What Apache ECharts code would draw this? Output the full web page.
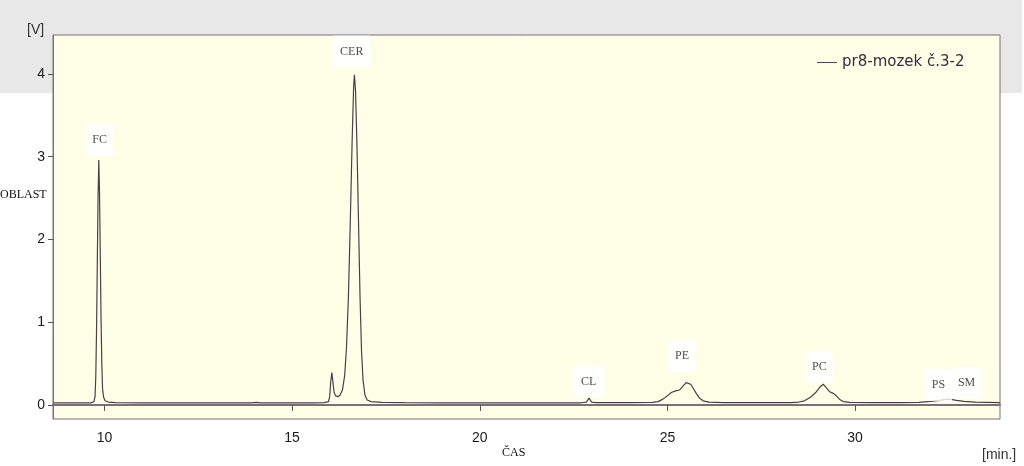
<!DOCTYPE html>
<html><head><meta charset="utf-8">
<script src="https://cdn.jsdelivr.net/npm/echarts@6/dist/echarts.min.js"></script>
<style>html,body{margin:0;padding:0;background:#fff}#c{width:1024px;height:466px}</style>
</head><body><div id="c"></div>
<script>
// retention time (min)
var times = [8.65,9.00,9.40,9.65,9.72,9.75,9.77,9.79,9.81,9.83,9.85,9.87,9.89,9.91,9.93,9.95,9.98,10.02,10.10,10.30,
11.00,12.00,13.00,13.90,14.05,14.15,15.00,15.60,15.85,15.97,16.00,16.03,16.06,16.09,16.12,16.16,16.22,16.28,16.34,16.40,
16.45,16.50,16.55,16.60,16.64,16.66,16.69,16.73,16.77,16.81,16.85,16.89,16.94,17.00,17.10,17.40,18.00,19.00,20.00,21.00,
22.00,22.70,22.84,22.88,22.91,22.94,22.98,23.10,24.00,24.60,24.75,24.88,25.00,25.10,25.22,25.32,25.42,25.50,25.55,25.62,
25.70,25.78,25.86,25.95,26.10,26.50,27.50,28.30,28.50,28.65,28.80,28.95,29.05,29.15,29.23,29.32,29.42,29.50,29.58,29.68,
29.85,30.50,31.20,31.70,32.00,32.25,32.45,32.55,32.70,32.90,33.20,33.86];
// detector signal [V]
var signal = [0.024,0.024,0.025,0.026,0.04,0.10,0.35,0.90,1.70,2.50,2.96,2.55,1.80,1.05,0.50,0.20,0.09,0.05,0.035,0.028,
0.025,0.025,0.024,0.025,0.032,0.025,0.024,0.025,0.028,0.04,0.10,0.28,0.39,0.27,0.15,0.11,0.10,0.12,0.18,0.35,
0.70,1.30,2.20,3.20,3.85,3.99,3.80,3.10,2.20,1.30,0.65,0.30,0.12,0.06,0.04,0.03,0.027,0.026,0.025,0.025,
0.025,0.026,0.035,0.06,0.085,0.06,0.035,0.028,0.028,0.03,0.04,0.07,0.11,0.15,0.17,0.18,0.23,0.27,0.28,0.25,
0.19,0.13,0.08,0.05,0.033,0.028,0.027,0.028,0.035,0.05,0.09,0.15,0.21,0.25,0.21,0.16,0.14,0.11,0.07,0.04,
0.03,0.027,0.028,0.032,0.042,0.055,0.07,0.068,0.055,0.042,0.033,0.028];
// peak annotations
var peakNames = ['FC','CER','CL','PE','PC','PS','SM'];
var peakLabelTimes = [9.87,16.59,22.90,25.39,29.05,32.22,32.97];
var peakLabelValues = [3.20,4.27,0.28,0.59,0.46,0.24,0.27];
var xTicks = [10,15,20,25,30];
var yTicks = [0,1,2,3,4];
var seriesName = 'pr8-mozek č.3-2';

var lineData = times.map(function(t,i){return [t, signal[i]];});
var labelData = peakNames.map(function(n,i){return {name:n, value:[peakLabelTimes[i], peakLabelValues[i]]};});

var chart = echarts.init(document.getElementById('c'));
var axisCol = '#7d6d7d';
var tickFont = {color:'#1a1a1a', fontFamily:'Liberation Sans', fontSize:14};
chart.setOption({
  animation:false,
  backgroundColor:'#fff',
  graphic:[
    {type:'rect', z:-10, shape:{x:0,y:0,width:1022,height:93}, style:{fill:'#e8e8e8'}, silent:true},
    {type:'text', left:27, top:23, style:{text:'[V]', fill:'#333', font:'14px "Liberation Sans"'}},
    {type:'text', left:0, top:189, style:{text:'OBLAST', fill:'#111', font:'12px "Liberation Serif"'}},
    {type:'text', left:502, top:447, style:{text:'ČAS', fill:'#111', font:'12px "Liberation Serif"'}},
    {type:'text', left:982, top:448, style:{text:'[min.]', fill:'#333', font:'14px "Liberation Sans"'}}
  ],
  grid:{left:53, top:35, right:24, bottom:47, show:true, backgroundColor:'#ffffe8', borderColor:axisCol, borderWidth:1},
  legend:{left:812, top:50, itemWidth:20, itemHeight:1, itemGap:6,
    data:[{name:seriesName, icon:'rect'}],
    textStyle:{color:'#3a2a3a', fontFamily:'DejaVu Sans', fontSize:15}},
  xAxis:{type:'value', min:8.63, max:33.86,
    axisLine:{show:true, lineStyle:{color:axisCol, width:2}},
    axisTick:{show:true, length:6, lineStyle:{color:'#555'}, customValues:xTicks},
    axisLabel:Object.assign({margin:12, customValues:xTicks}, tickFont),
    splitLine:{show:false}},
  yAxis:{type:'value', min:-0.17, max:4.47,
    axisLine:{show:true, lineStyle:{color:axisCol, width:1}},
    axisTick:{show:true, length:5, lineStyle:{color:'#555'}, customValues:yTicks},
    axisLabel:Object.assign({margin:8, customValues:yTicks}, tickFont),
    splitLine:{show:false}},
  series:[
    {name:seriesName, type:'line', data:lineData, symbol:'none', showSymbol:false,
     lineStyle:{color:'#4a3f48', width:1.2}, itemStyle:{color:'#5a3f58'}, z:3},
    {name:'labels', type:'scatter', data:labelData, symbolSize:1, itemStyle:{color:'rgba(0,0,0,0)'}, z:4,
     label:{show:true, position:'inside', formatter:'{b}', color:'#222', fontFamily:'Liberation Serif', fontSize:12,
       backgroundColor:'#ffffff', padding:[10,7]}}
  ]
});
</script></body></html>
